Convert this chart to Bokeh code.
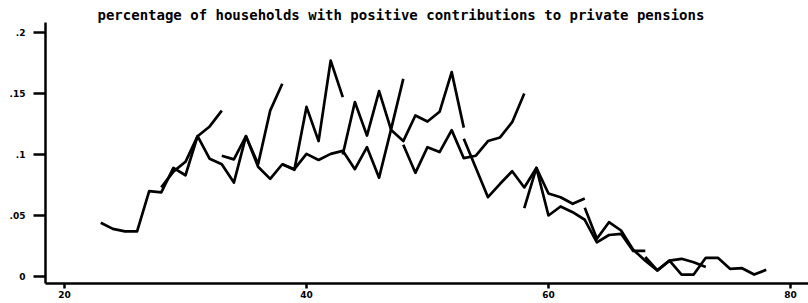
from bokeh.plotting import figure
from bokeh.models import FixedTicker, Range1d, ColumnDataSource
from bokeh.embed import file_html
from bokeh.resources import INLINE

title_text = "percentage of households with positive contributions to private pensions"

# cohort start ages (each cohort observed over 11 consecutive ages)
cohort_start = [23, 28, 33, 38, 43, 48, 53, 58, 63, 68]

c1 = [.044, .039, .037, .037, .070, .069, .089, .083, .115, .123, .136]
c2 = [.073, .086, .094, .115, .0965, .092, .077, .115, .092, .136, .158]
c3 = [.099, .096, .115, .090, .080, .092, .0875, .139, .111, .177, .147]
c4 = [.092, .088, .1005, .0955, .1005, .103, .088, .106, .081, .121, .162]
c5 = [.100, .143, .1155, .152, .120, .111, .132, .127, .135, .1675, .122]
c6 = [.108, .085, .106, .102, .120, .097, .099, .111, .114, .1265, .150]
c7 = [.113, .089, .065, .076, .0863, .073, .089, .068, .065, .0596, .064]
c8 = [.056, .089, .050, .0574, .0527, .0465, .028, .034, .035, .021, .021]
c9 = [.0563, .031, .0445, .0377, .022, .013, .005, .013, .0145, .0117, .0077]
c10 = [.016, .005, .013, .0016, .0016, .0153, .0153, .0063, .0068, .0016, .0055]

series = [c1, c2, c3, c4, c5, c6, c7, c8, c9, c10]

x_ticks = [20, 40, 60, 80]
y_ticks = [0, 0.05, 0.1, 0.15, 0.2]
y_tick_labels = ["0", ".05", ".1", ".15", ".2"]

xs = [list(range(s, s + len(v))) for s, v in zip(cohort_start, series)]
ys = [list(v) for v in series]
src = ColumnDataSource(dict(xs=xs, ys=ys))

p = figure(width=808, height=303,
           x_range=Range1d(18.43, 81.49), y_range=Range1d(-0.00574, 0.2082),
           output_backend="svg", toolbar_location=None,
           min_border_left=45, min_border_right=0, min_border_top=22, min_border_bottom=20)

p.title.text = title_text
p.title.align = "left"
p.title.offset = 52
p.title.standoff = 0
p.title.text_font = "DejaVu Sans Mono"
p.title.text_font_style = "bold"
p.title.text_font_size = "14px"
p.title.text_color = "black"

p.multi_line(xs="xs", ys="ys", source=src, line_color="black", line_width=2.7,
             line_join="round")

p.xgrid.visible = False
p.ygrid.visible = False
p.outline_line_color = None
p.background_fill_color = "white"
p.border_fill_color = "white"

for ax in (p.xaxis[0], p.yaxis[0]):
    ax.axis_line_width = 2.5
    ax.axis_line_color = "black"
    ax.major_tick_line_width = 2.5
    ax.major_tick_line_color = "black"
    ax.major_tick_in = 0
    ax.minor_tick_out = 0
    ax.minor_tick_in = 0
    ax.major_label_text_font = "DejaVu Sans"
    ax.major_label_text_font_style = "bold"
    ax.major_label_text_font_size = "9px"
    ax.major_label_text_color = "black"

p.xaxis.ticker = FixedTicker(ticks=x_ticks)
p.yaxis.ticker = FixedTicker(ticks=y_ticks)
p.yaxis.major_label_overrides = {t: l for t, l in zip(y_ticks, y_tick_labels)}
p.xaxis.major_tick_out = 5
p.xaxis.major_label_standoff = 2
p.yaxis.major_tick_out = 12
p.yaxis.major_label_standoff = 8

open("out.html", "w").write(file_html(p, INLINE))
